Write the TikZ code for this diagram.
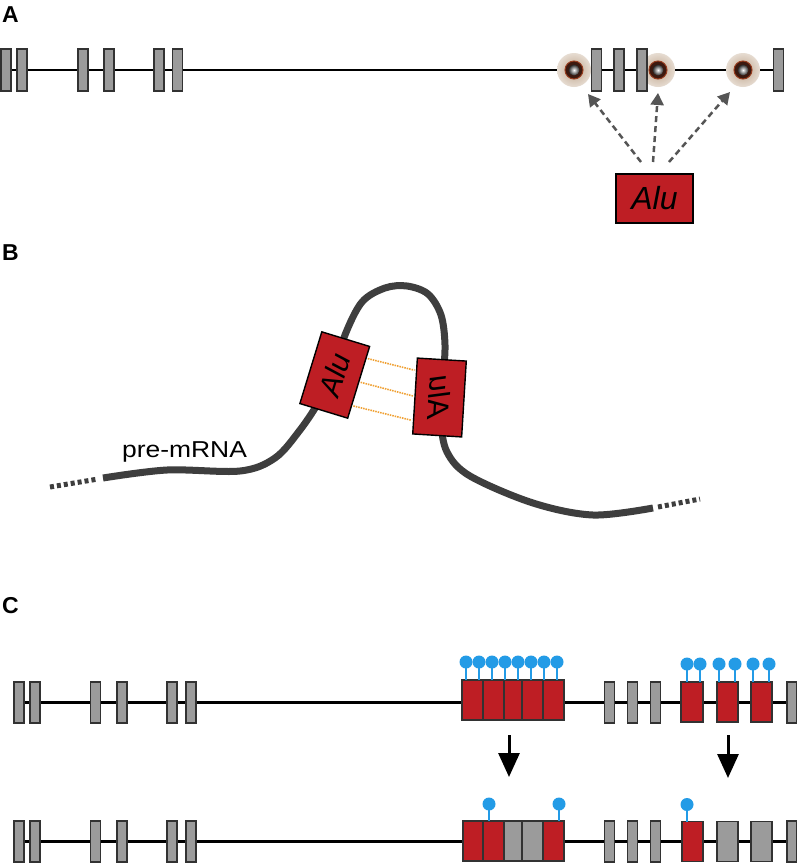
\documentclass[tikz,border=0pt]{standalone}
\usepackage{fontspec}
\setmainfont{Liberation Sans}
\usepackage{graphicx}
\usetikzlibrary{arrows.meta,calc,backgrounds}
\definecolor{exgray}{RGB}{155,155,155}
\definecolor{edgec}{RGB}{50,50,50}
\definecolor{alured}{RGB}{190,30,36}
\definecolor{lolli}{RGB}{35,155,230}
\definecolor{rnagray}{RGB}{62,62,62}
\definecolor{haloc}{RGB}{220,205,190}
\definecolor{haloin}{RGB}{190,165,140}
\definecolor{ringc}{RGB}{60,25,15}
\definecolor{ringedge}{RGB}{150,60,30}
\definecolor{pairorange}{RGB}{240,160,50}
\definecolor{arrowgray}{RGB}{85,85,85}
\begin{document}
\begin{tikzpicture}[x=1pt,y=-1pt,
  exon/.style={draw=edgec, line width=1.4pt, fill=exgray, minimum width=10pt, minimum height=41pt, inner sep=0pt, outer sep=0pt},
  redex/.style={draw=edgec, line width=1.4pt, fill=alured, minimum height=40pt, inner sep=0pt, outer sep=0pt},
  grayex/.style={draw=edgec, line width=1.4pt, fill=exgray, minimum height=40pt, inner sep=0pt, outer sep=0pt},
  alubox/.style={draw=black, line width=1.4pt, fill=alured, inner sep=0pt, outer sep=0pt},
  alutext/.style={font=\itshape\fontsize{30}{30}\selectfont, inner sep=0pt},
  intron/.style={draw=black, line width=2.8pt},
  panellabel/.style={font=\bfseries\fontsize{23}{23}\selectfont, anchor=base west, inner sep=0pt},
  insarrow/.style={draw=arrowgray, line width=2.5pt, dash pattern=on 6pt off 4pt, -{Triangle[length=12pt,width=13pt]}},
  downarrow/.style={draw=black, line width=3pt, -{Triangle[length=24pt,width=21pt]}},
  rna/.style={draw=rnagray, line width=7pt},
  rnadash/.style={draw=rnagray, line width=5pt, dash pattern=on 4pt off 3pt},
  pair/.style={draw=pairorange, line width=1.6pt, dash pattern=on 1.5pt off 1pt},
  stick/.style={draw=lolli, line width=2pt},
  ball/.style={fill=lolli}
]
\useasboundingbox (0,0) rectangle (797,863);

% ---------- labels ----------
\node[panellabel] (labA) at (2,22) {A};
\node[panellabel] (labB) at (2,260) {B};
\node[panellabel] (labC) at (2,613) {C};

% ---------- Panel A ----------
\foreach \x [count=\i] in {6,22,83,109,159,177.5,596.5,619,642,778.5}
  \node[exon, minimum height=42pt] (a\i) at (\x,70) {};
\coordinate (m1) at (574,70);
\coordinate (m2) at (658,70);
\coordinate (m3) at (743,70);
\begin{scope}[on background layer]
  \fill[white] (0,0) rectangle (797,863);
  \draw[intron] (a1.center) -- (a10.center);
  \foreach \m in {m1,m2,m3}{
    \shade[inner color=haloin, outer color=haloc!70] (\m) circle (17);
    \fill[ringc] (\m) circle (9);
    \draw[ringedge, line width=1pt] (\m) circle (9);
    \shade[inner color=white, outer color=black!85] (\m) circle (5.5);
  }
\end{scope}
\node[alubox, minimum width=77pt, minimum height=49pt, font=\itshape\fontsize{32}{32}\selectfont] (aluA) at (654.5,198.5) {Alu};
\coordinate (s1) at ($(aluA.north)+(-13.5,-12)$);
\coordinate (s2) at ($(aluA.north)+(-1.5,-12)$);
\coordinate (s3) at ($(aluA.north)+(14.5,-12)$);
\coordinate (t1) at ($(m1)+(14,24)$);
\coordinate (t2) at ($(m2)+(0,23)$);
\coordinate (t3) at ($(m3)+(-13,22)$);
\draw[insarrow] (s1) -- (t1);
\draw[insarrow] (s2) -- (t2);
\draw[insarrow] (s3) -- (t3);

% ---------- Panel B ----------
\coordinate (r0) at (103,478);
\coordinate (r1) at (653,508);
\coordinate (d0) at (50,487);
\coordinate (d0e) at (98,479);
\coordinate (d1) at (658,507);
\coordinate (d1e) at (700,499);
\draw[rnadash] (d0) -- (d0e);
\draw[rnadash] (d1) -- (d1e);
\draw[rna] plot[smooth, tension=0.55] coordinates {(r0) (167,470) (240,471) (275,458) (300,430) (320,400) (335,370) (345,335) (362,302) (385,288) (407,286) (428,294) (441,315) (445,345) (443,380) (441,420) (447,452) (470,476) (533,503) (593,515) (r1)};
\node[alubox, minimum width=50pt, minimum height=75pt, rotate=-17] (b1) at (334.75,375) {};
\node[alubox, minimum width=49pt, minimum height=76pt, rotate=-3.5] (b2) at (439.5,397.5) {};
\node[alutext, rotate=73] (b1t) at (b1.center) {Alu};
\node[alutext, rotate=-93.5] (b2t) at (b2.center) {\reflectbox{Alu}};
\draw[pair] ($(b1.north east)!0.17!(b1.south east)+(2,0)$) -- ($(b2.north west)!0.16!(b2.south west)+(-2,0)$);
\draw[pair] ($(b1.north east)!0.50!(b1.south east)+(2,0)$) -- ($(b2.north west)!0.50!(b2.south west)+(-2,0)$);
\draw[pair] ($(b1.north east)!0.83!(b1.south east)+(2,0)$) -- ($(b2.north west)!0.82!(b2.south west)+(-2,0)$);
\node[font=\fontsize{23}{23}\selectfont, anchor=base, xscale=1.15, inner sep=0pt] (pre) at (184.5,457) {pre-mRNA};

% ---------- Panel C top row ----------
\foreach \x [count=\i] in {19,35,95.5,122,172,191,609.5,632.5,655.5,792}
  \node[exon] (c\i) at (\x,702.5) {};
\begin{scope}[on background layer]
  \draw[intron] (c1.center) -- (c10.center);
\end{scope}
\foreach \xa/\xb [count=\i] in {462/483,483/504,504/522,522/543,543/564}
  \node[redex, minimum width=\xb-\xa] (ct\i) at ({(\xa+\xb)/2},700) {};
\node[redex, minimum width=22pt] (cr1) at (692,702) {};
\node[redex, minimum width=21pt] (cr2) at (727.5,702) {};
\node[redex, minimum width=21pt] (cr3) at (761.5,702) {};
\foreach \x in {466,479,492,505,518,531,544,557}{
  \coordinate (lp) at (\x,680);
  \draw[stick] (lp) -- ++(0,-18);
  \fill[ball] ($(lp)+(0,-18)$) circle (6.5);
}
\foreach \x in {687,700,719,735,753,769}{
  \coordinate (lp) at (\x,682);
  \draw[stick] (lp) -- ++(0,-18);
  \fill[ball] ($(lp)+(0,-18)$) circle (6.5);
}

% ---------- arrows ----------
\coordinate (ar1s) at (509,735);
\coordinate (ar1e) at (509,777);
\coordinate (ar2s) at (728,735);
\coordinate (ar2e) at (728,778);
\draw[downarrow] (ar1s) -- (ar1e);
\draw[downarrow] (ar2s) -- (ar2e);

% ---------- Panel C bottom row ----------
\foreach \x [count=\i] in {19,35,95.5,122,172,191,609.5,632.5,655.5,792}
  \node[exon] (e\i) at (\x,841.5) {};
\begin{scope}[on background layer]
  \draw[intron] (e1.center) -- (e10.center);
\end{scope}
\node[redex, minimum width=20pt] (cb1) at (473,841) {};
\node[redex, minimum width=21pt] (cb2) at (493.5,841) {};
\node[grayex, minimum width=18pt] (cb3) at (513,841) {};
\node[grayex, minimum width=21pt] (cb4) at (532.5,841) {};
\node[redex, minimum width=21pt] (cb5) at (553.5,841) {};
\node[redex, minimum width=21pt] (cs1) at (692.5,841.5) {};
\node[grayex, minimum width=21pt] (cs2) at (727.5,841.5) {};
\node[grayex, minimum width=21pt] (cs3) at (761.5,841.5) {};
\foreach \x/\y in {489/821,559/821,687/821.5}{
  \coordinate (lp) at (\x,\y);
  \draw[stick] (lp) -- ++(0,-17);
  \fill[ball] ($(lp)+(0,-17)$) circle (6.5);
}
\end{tikzpicture}
\end{document}
